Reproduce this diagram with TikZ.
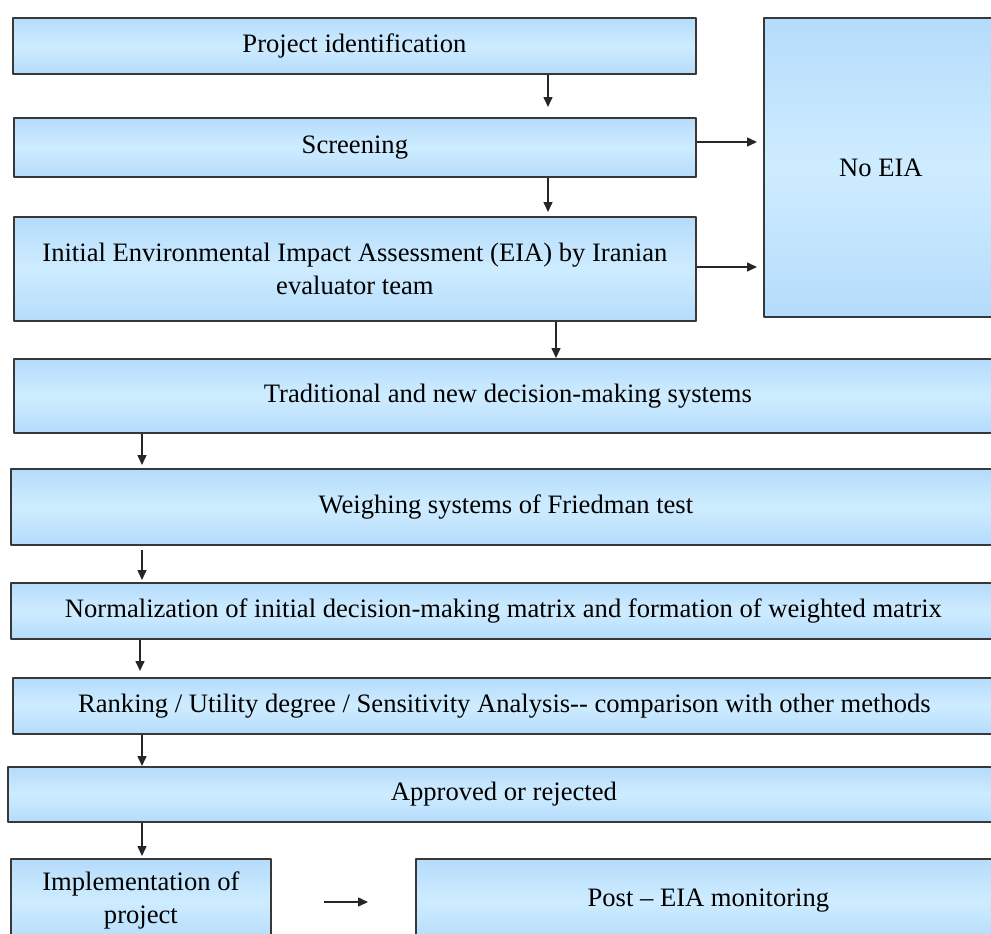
\documentclass[tikz,border=0pt]{standalone}
\usepackage{fontspec}
\setmainfont{Liberation Serif}
\usetikzlibrary{arrows.meta,shadows}
\definecolor{boxedge}{RGB}{156,203,248}
\definecolor{boxmid}{RGB}{206,236,255}
\pgfdeclareverticalshading{boxshade}{100bp}{color(0bp)=(boxedge); color(50bp)=(boxmid); color(100bp)=(boxedge)}

\begin{document}
\begin{tikzpicture}[x=1pt, y=-1pt, line join=round,
		box/.style={draw=black!78, line width=1.8pt, shading=boxshade, anchor=north west, inner sep=0pt, align=center, font=\fontsize{26.6}{33}\selectfont, drop shadow={shadow xshift=1.2pt, shadow yshift=-1.5pt, opacity=.3}},
		arr/.style={-{Triangle[length=10pt,width=9pt]}, line width=1.5pt, black!85}]
			\useasboundingbox (0,0) rectangle (991,934);
			\path (548,0) coordinate (colA) (556,0) coordinate (colB) (142,0) coordinate (colC) (140,0) coordinate (colD)
				(0,142) coordinate (rowA) (0,267) coordinate (rowB) (0,902) coordinate (rowC);
			\node[box, minimum width=683pt, minimum height=56pt] (ident) at (12,17) {Project identification};
			\node[box, minimum width=682pt, minimum height=59pt] (screen) at (13,117) {Screening};
			\node[box, minimum width=682pt, minimum height=104pt] (initial) at (13,216) {Initial Environmental Impact Assessment (EIA) by Iranian\\evaluator team};
			\node[box, minimum width=234pt, minimum height=299pt] (noeia) at (763,17) {No EIA};
			\node[box, minimum width=988pt, minimum height=74pt] (tradit) at (13,358) {Traditional and new decision-making systems};
			\node[box, minimum width=990pt, minimum height=76pt] (friedman) at (10,468) {Weighing systems of Friedman test};
			\node[box, minimum width=985pt, minimum height=56pt] (normal) at (10,582) {Normalization of initial decision-making matrix and formation of weighted matrix};
			\node[box, minimum width=983pt, minimum height=56pt] (rank) at (12,677) {Ranking / Utility degree / Sensitivity Analysis-\kern0pt- comparison with other methods};
			\node[box, minimum width=992pt, minimum height=55pt] (approve) at (7,766) {Approved or rejected};
			\node[box, minimum width=260pt, minimum height=84pt] (implem) at (10,858) {Implementation of\\project};
			\node[box, minimum width=585pt, minimum height=84pt] (monit) at (415,858) {Post – EIA monitoring};
			\foreach \a/\b/\c/\s/\t in {ident/screen/colA/0pt/10pt, screen/initial/colA/0pt/4pt, initial/tradit/colB/0pt/0pt, tradit/friedman/colC/0pt/3pt, friedman/normal/colC/4pt/2pt, normal/rank/colD/0pt/6pt, rank/approve/colC/0pt/0pt, approve/implem/colC/0pt/2pt}
				\draw[arr, shorten <=\s, shorten >=\t] (\a.south -| \c) -- (\b.north -| \c);
			\draw[arr, shorten >=6pt] (screen.east |- rowA) -- (noeia.west |- rowA);
			\draw[arr, shorten >=6pt] (initial.east |- rowB) -- (noeia.west |- rowB);
			\draw[arr, shorten <=52pt, shorten >=47pt] (implem.east |- rowC) -- (monit.west |- rowC);
		\end{tikzpicture}
\end{document}
